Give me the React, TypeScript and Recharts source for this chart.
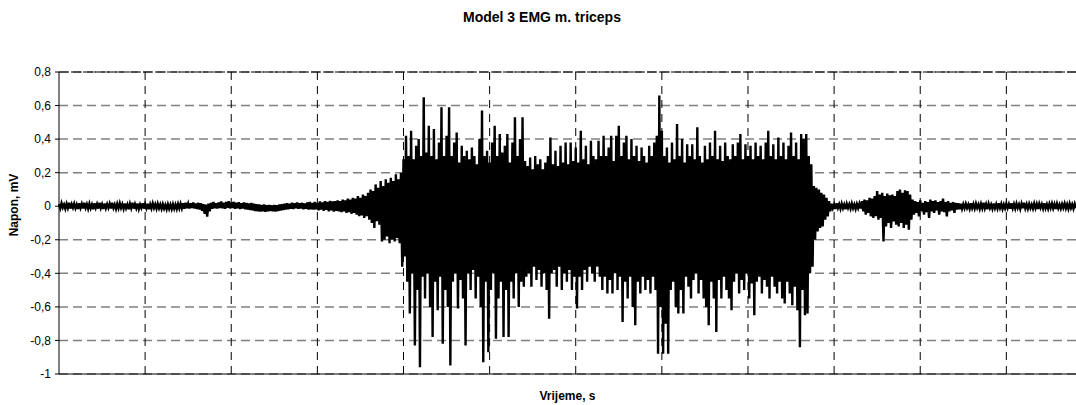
import { CartesianGrid, Label, Line, LineChart, ReferenceLine, XAxis, YAxis } from 'recharts'

const restHi = [
  0.012, 0.018, 0.01, 0.015, 0.02, 0.012, 0.016, 0.01, 0.018, 0.014,
  0.02, 0.012, 0.015, 0.01, 0.017, 0.013, 0.02, 0.011, 0.016, 0.012,
  0.015, 0.02, 0.01, 0.014, 0.018, 0.012, 0.016, 0.01, 0.015, 0.02,
  0.012, 0.016, 0.01, 0.018, 0.013, 0.015, 0.011, 0.017, 0.012, 0.014,
  0.01, 0.012, 0.008, 0.011, 0.009, 0.012, 0.01, 0.013, 0.015, 0.018,
  0.02, 0.015, 0.018, 0.022, 0.016, 0.02, 0.018, 0.012, 0.01, 0.015,
  0.02, 0.025, 0.018, 0.022, 0.028, 0.02, 0.025, 0.03, 0.022, 0.026,
  0.02, 0.024, 0.018, 0.022, 0.02, 0.016, 0.02, 0.015, 0.012, 0.01,
  0.008, 0.01, 0.006, 0.008, 0.005, 0.008, 0.006, 0.01, 0.012, 0.015,
  0.018, 0.015, 0.02, 0.017, 0.022, 0.018, 0.02, 0.016, 0.022, 0.025,
]
const restLo = [
  -0.012, -0.008, -0.015, -0.01, -0.014, -0.009, -0.012, -0.016, -0.01, -0.013,
  -0.01, -0.015, -0.012, -0.018, -0.01, -0.014, -0.011, -0.016, -0.012, -0.01,
  -0.014, -0.01, -0.016, -0.012, -0.01, -0.015, -0.012, -0.018, -0.011, -0.014,
  -0.012, -0.016, -0.01, -0.014, -0.012, -0.018, -0.013, -0.01, -0.015, -0.012,
  -0.016, -0.014, -0.018, -0.015, -0.017, -0.014, -0.016, -0.013, -0.012, -0.015,
  -0.012, -0.014, -0.01, -0.013, -0.016, -0.02, -0.028, -0.045, -0.062, -0.03,
  -0.015, -0.012, -0.014, -0.01, -0.012, -0.015, -0.01, -0.013, -0.011, -0.015,
  -0.012, -0.016, -0.014, -0.018, -0.02, -0.022, -0.025, -0.028, -0.03, -0.032,
  -0.03, -0.033, -0.03, -0.028, -0.03, -0.032, -0.028, -0.025, -0.022, -0.02,
  -0.018, -0.015, -0.016, -0.012, -0.015, -0.014, -0.018, -0.015, -0.02, -0.018,
]

const onsetHi = [
  0.02, 0.025, 0.02, 0.028, 0.022, 0.03, 0.025, 0.032, 0.028, 0.03,
  0.035, 0.03, 0.04, 0.035, 0.045, 0.04, 0.05, 0.045, 0.06, 0.05,
  0.07, 0.06, 0.08, 0.1, 0.09, 0.13, 0.11, 0.15,
  0.12, 0.16, 0.14, 0.17, 0.15, 0.19, 0.16,
]
const onsetLo = [
  -0.02, -0.018, -0.025, -0.02, -0.028, -0.022, -0.03, -0.025, -0.032, -0.028,
  -0.03, -0.035, -0.03, -0.04, -0.035, -0.045, -0.04, -0.05, -0.06, -0.055,
  -0.07, -0.06, -0.08, -0.1, -0.13, -0.09, -0.11, -0.21,
  -0.2, -0.18, -0.22, -0.2, -0.21, -0.19, -0.22,
]

const burstHi = [
  0.2, 0.28, 0.42, 0.3, 0.45, 0.28, 0.36, 0.4, 0.3, 0.65,
  0.32, 0.48, 0.3, 0.46, 0.28, 0.38, 0.59, 0.3, 0.42, 0.59,
  0.3, 0.38, 0.44, 0.26, 0.36, 0.3, 0.33, 0.28, 0.35, 0.3,
  0.25, 0.4, 0.57, 0.3, 0.33, 0.26, 0.38, 0.48, 0.3, 0.43,
  0.32, 0.36, 0.43, 0.26, 0.38, 0.53, 0.3, 0.4, 0.53, 0.27,
  0.24, 0.29, 0.22, 0.3, 0.25, 0.28, 0.22, 0.26, 0.3, 0.41,
  0.25, 0.33, 0.24, 0.36, 0.26, 0.38, 0.25, 0.38, 0.27, 0.35,
  0.26, 0.45, 0.28, 0.36, 0.25, 0.39, 0.3, 0.28, 0.39, 0.3,
  0.42, 0.3, 0.35, 0.42, 0.27, 0.42, 0.48, 0.3, 0.38, 0.42,
  0.28, 0.4, 0.3, 0.36, 0.27, 0.35, 0.3, 0.26, 0.36, 0.3,
  0.38, 0.42, 0.66, 0.45, 0.3, 0.35, 0.26, 0.38, 0.28, 0.49,
  0.3, 0.4, 0.26, 0.37, 0.3, 0.37, 0.28, 0.47, 0.3, 0.26,
  0.36, 0.28, 0.38, 0.3, 0.45, 0.28, 0.36, 0.27, 0.38, 0.3,
  0.28, 0.37, 0.3, 0.38, 0.43, 0.28, 0.37, 0.3, 0.36, 0.28,
  0.38, 0.3, 0.36, 0.28, 0.38, 0.45, 0.3, 0.37, 0.28, 0.41,
  0.3, 0.38, 0.28, 0.36, 0.44, 0.3, 0.38, 0.28, 0.43, 0.4,
  0.43, 0.3, 0.25, 0.12, 0.11, 0.1, 0.08, 0.07, 0.05, 0.03,
]
const burstLo = [
  -0.36, -0.3, -0.45, -0.64, -0.4, -0.83, -0.5, -0.96, -0.42, -0.55,
  -0.4, -0.6, -0.78, -0.45, -0.62, -0.42, -0.82, -0.5, -0.6, -0.95,
  -0.45, -0.4, -0.61, -0.44, -0.55, -0.83, -0.4, -0.5, -0.38, -0.55,
  -0.42, -0.6, -0.93, -0.45, -0.87, -0.5, -0.4, -0.79, -0.55, -0.45,
  -0.78, -0.5, -0.78, -0.45, -0.55, -0.4, -0.6, -0.45, -0.48, -0.42,
  -0.4, -0.48, -0.36, -0.44, -0.38, -0.48, -0.4, -0.5, -0.67, -0.4,
  -0.38, -0.48, -0.36, -0.5, -0.4, -0.45, -0.38, -0.5, -0.42, -0.61,
  -0.42, -0.5, -0.38, -0.45, -0.36, -0.4, -0.45, -0.36, -0.42, -0.5,
  -0.42, -0.52, -0.44, -0.52, -0.4, -0.5, -0.42, -0.69, -0.45, -0.55,
  -0.42, -0.6, -0.71, -0.45, -0.52, -0.42, -0.5, -0.44, -0.52, -0.42,
  -0.5, -0.88, -0.6, -0.88, -0.7, -0.88, -0.5, -0.45, -0.6, -0.64,
  -0.5, -0.64, -0.42, -0.48, -0.55, -0.44, -0.4, -0.52, -0.44, -0.55,
  -0.6, -0.71, -0.45, -0.55, -0.75, -0.44, -0.55, -0.42, -0.5, -0.55,
  -0.62, -0.45, -0.4, -0.52, -0.44, -0.5, -0.4, -0.55, -0.46, -0.65,
  -0.45, -0.42, -0.52, -0.44, -0.48, -0.55, -0.42, -0.48, -0.52, -0.45,
  -0.55, -0.58, -0.45, -0.52, -0.59, -0.48, -0.62, -0.84, -0.5, -0.65,
  -0.64, -0.4, -0.36, -0.2, -0.15, -0.13, -0.12, -0.08, -0.06, -0.03,
]

const pauseHi = [0.015, 0.01, 0.018, 0.012, 0.015, 0.01, 0.014, 0.012, 0.016, 0.01, 0.013, 0.015]
const pauseLo = [-0.012, -0.016, -0.01, -0.015, -0.012, -0.018, -0.01, -0.014, -0.012, -0.016, -0.011, -0.014]

const echoHi = [
  0.03, 0.04, 0.035, 0.05, 0.045, 0.06, 0.09, 0.07, 0.08, 0.06, 0.075,
  0.065, 0.07, 0.06, 0.09, 0.1, 0.08, 0.095, 0.09, 0.07, 0.04,
  0.03, 0.025, 0.035, 0.02, 0.03, 0.025, 0.04, 0.03, 0.035, 0.025,
  0.03, 0.045, 0.025, 0.03, 0.02, 0.025, 0.02, 0.018, 0.015,
]
const echoLo = [
  -0.03, -0.05, -0.04, -0.06, -0.07, -0.06, -0.08, -0.07, -0.21, -0.12, -0.1,
  -0.13, -0.09, -0.11, -0.12, -0.1, -0.13, -0.11, -0.14, -0.08, -0.05,
  -0.04, -0.06, -0.03, -0.05, -0.035, -0.07, -0.03, -0.04, -0.025, -0.05,
  -0.03, -0.035, -0.06, -0.03, -0.025, -0.04, -0.02, -0.018, -0.015,
]

const tailHi = [
  0.012, 0.015, 0.01, 0.018, 0.013, 0.016, 0.011, 0.014, 0.02, 0.012,
  0.015, 0.01, 0.016, 0.012, 0.018, 0.014, 0.01, 0.015, 0.012, 0.017,
  0.013, 0.016, 0.011, 0.015, 0.02, 0.012, 0.014, 0.01, 0.016, 0.013,
  0.015, 0.012, 0.018, 0.011, 0.014, 0.016, 0.012, 0.015, 0.01, 0.013,
  0.016, 0.012, 0.015, 0.011, 0.014,
]
const tailLo = [
  -0.012, -0.01, -0.015, -0.011, -0.014, -0.01, -0.016, -0.012, -0.013, -0.018,
  -0.011, -0.015, -0.012, -0.014, -0.01, -0.016, -0.013, -0.011, -0.015, -0.012,
  -0.014, -0.01, -0.016, -0.012, -0.013, -0.015, -0.011, -0.014, -0.012, -0.016,
  -0.01, -0.014, -0.012, -0.015, -0.011, -0.013, -0.016, -0.012, -0.014, -0.01,
  -0.013, -0.015, -0.011, -0.014, -0.012,
]

const yTicks = [-1, -0.8, -0.6, -0.4, -0.2, 0, 0.2, 0.4, 0.6, 0.8]
const GRID_STEP = 68 // samples between vertical gridlines

const highs = [...restHi, ...onsetHi, ...burstHi, ...pauseHi, ...echoHi, ...tailHi]
const lows = [...restLo, ...onsetLo, ...burstLo, ...pauseLo, ...echoLo, ...tailLo]
const data = highs.flatMap((h, i) => [
  { t: 2 * i, napon: h },
  { t: 2 * i + 1, napon: lows[i] },
])
const X_MAX = data.length - 1
const xTicks = Array.from({ length: Math.floor(X_MAX / GRID_STEP) + 1 }, (_, i) => i * GRID_STEP)

const FONT = '"Liberation Sans", Arial, sans-serif'
const fmt = (v: number) => String(Math.round(v * 10) / 10).replace('.', ',')

function YTitle({ viewBox }: any) {
  const cx = 14
  const cy = viewBox.y + viewBox.height / 2 - 18
  return (
    <text
      x={cx}
      y={cy}
      transform={`rotate(-90 ${cx} ${cy})`}
      textAnchor="middle"
      dominantBaseline="central"
      fontFamily={FONT}
      fontSize={12}
      fontWeight="bold"
      fill="#000"
    >
      Napon, mV
    </text>
  )
}

export default function App() {
  return (
    <div style={{ position: 'absolute', left: 0, top: 0, width: 1076, height: 405, background: '#fff' }}>
      <div
        style={{
          position: 'absolute',
          top: 9,
          left: 8,
          width: 1068,
          textAlign: 'center',
          fontFamily: FONT,
          fontWeight: 'bold',
          fontSize: 14,
          color: '#000',
        }}
      >
        Model 3 EMG m. triceps
      </div>
      <LineChart width={1076} height={405} data={data} margin={{ top: 72, right: 0, bottom: 1, left: 0 }}>
        <CartesianGrid vertical={false} stroke="#808080" strokeWidth={1.5} strokeDasharray="9 5" />
        {xTicks.slice(1).map((t) => (
          <ReferenceLine key={t} x={t} stroke="#000" strokeDasharray="8 6" />
        ))}
        <ReferenceLine y={0.8} stroke="#000" strokeDasharray="10 2" />
        <XAxis
          dataKey="t"
          type="number"
          domain={[0, X_MAX]}
          ticks={xTicks}
          tick={false}
          tickLine={false}
          height={30}
          axisLine={{ stroke: '#000' }}
        >
          <Label
            value="Vrijeme, s"
            position="insideBottom"
            offset={4}
            style={{ fontFamily: FONT, fontSize: 12, fontWeight: 'bold', fill: '#000' }}
          />
        </XAxis>
        <YAxis
          width={59}
          domain={[-1, 0.8]}
          ticks={yTicks}
          tickFormatter={fmt}
          allowDataOverflow
          axisLine={{ stroke: '#000' }}
          tickLine={{ stroke: '#000' }}
          tickSize={4}
          tickMargin={4}
          tick={{ fontFamily: FONT, fontSize: 12, fill: '#000' }}
        >
          <Label content={<YTitle />} />
        </YAxis>
        <Line
          type="linear"
          dataKey="napon"
          stroke="#000"
          strokeWidth={2.4}
          dot={false}
          isAnimationActive={false}
        />
      </LineChart>
    </div>
  )
}
